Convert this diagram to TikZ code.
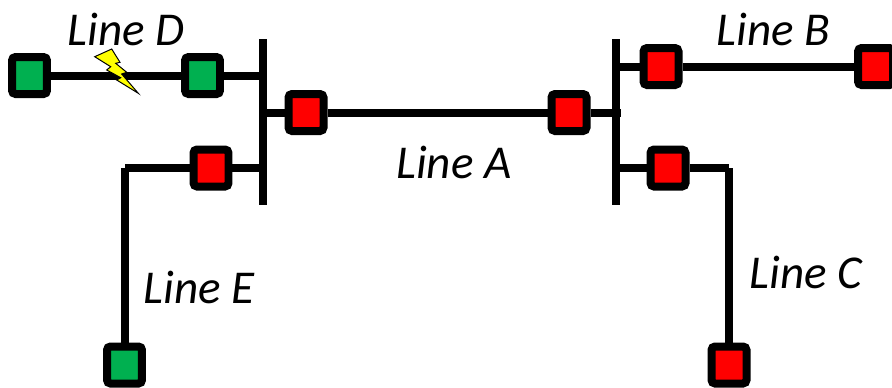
\documentclass[tikz,border=0pt]{standalone}
\usepackage{fontspec}
\usepackage{xcolor}
\setmainfont{Carlito}
\definecolor{relaygreen}{RGB}{0,176,80}
\definecolor{relayred}{RGB}{255,0,0}
\definecolor{boltyellow}{RGB}{255,255,0}
\tikzset{
    wire/.style={line width=0.16cm},
    relay/.style={draw,line width=0.16cm,rounded corners=2pt,inner sep=0pt,minimum width=0.7cm,minimum height=0.74cm},
    closedrelay/.style={relay,fill=relayred},
    openrelay/.style={relay,fill=relaygreen},
    linelabel/.style={font=\fontsize{26.8}{30}\selectfont\itshape,inner sep=0pt}
}

\begin{document}
\begin{tikzpicture}[x=0.02cm,y=-0.02cm]
        \useasboundingbox (0,0) rectangle (892,387);

        % busbars
        \coordinate (busLtop) at (262.5,39);
        \coordinate (busLbot) at (262.5,205);
        \coordinate (busRtop) at (616,39);
        \coordinate (busRbot) at (616,205);
        \draw[wire] (busLtop) -- (busLbot);
        \draw[wire] (busRtop) -- (busRbot);

        % relays
        \node[openrelay] (relayDfar) at (29.5,75.5) {};
        \node[openrelay] (relayDnear) at (202.5,75.5) {};
        \node[closedrelay] (relayAleft) at (306,112.5) {};
        \node[closedrelay] (relayAright) at (569,112.5) {};
        \node[closedrelay] (relayEnear) at (211,168) {};
        \node[openrelay] (relayEfar) at (124.5,365) {};
        \node[closedrelay] (relayBnear) at (661,66.5) {};
        \node[closedrelay] (relayBfar) at (875.5,66.5) {};
        \node[closedrelay] (relayCnear) at (668,168) {};
        \node[closedrelay] (relayCfar) at (729,365) {};

        % lines
        \coordinate (cornerE) at (124.5,168);
        \coordinate (cornerC) at (729,168);
        \coordinate (stubA) at (620.5,112.5);
        \draw[wire] (relayDfar) -- (relayDnear);
        \draw[wire] (relayDnear) -- (relayDnear -| busLtop);
        \draw[wire] (relayAleft) -- (relayAleft -| busLtop);
        \draw[wire] (relayAleft) -- (relayAright);
        \draw[wire] (relayAright) -- (stubA);
        \draw[wire] (relayEnear) -- (relayEnear -| busLtop);
        \draw[wire] (relayEnear) -- (cornerE);
        \draw[wire] (cornerE) -- (relayEfar);
        \draw[wire] (relayBnear) -- (relayBnear -| busRtop);
        \draw[wire] (relayBnear) -- (relayBfar);
        \draw[wire] (relayCnear) -- (relayCnear -| busRtop);
        \draw[wire] (relayCnear) -- (cornerC);
        \draw[wire] (cornerC) -- (relayCfar);

        % fault
        \draw[fill=boltyellow,line width=0.02cm,line join=miter]
            (94.7,56.7) -- (111.7,49) -- (120,62.3) -- (115.7,63.3) -- (126.7,72.3) -- (121.7,74)
            -- (138.3,93.3) -- (116.7,80) -- (120.7,77.7) -- (106.7,70) -- (110.7,66.7) -- cycle;

        % labels
        \node[linelabel] (labelA) at (454,162) {Line A};
        \node[linelabel] (labelB) at (773.5,29) {Line B};
        \node[linelabel] (labelC) at (806,272) {Line C};
        \node[linelabel] (labelD) at (126,29) {Line D};
        \node[linelabel] (labelE) at (199,287) {Line E};
    \end{tikzpicture}
\end{document}
